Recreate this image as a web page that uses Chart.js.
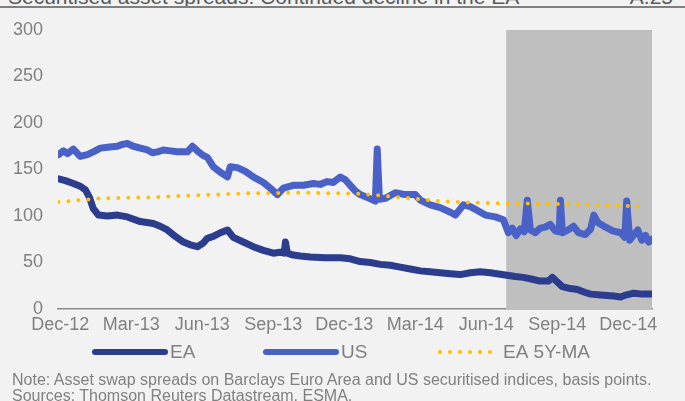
<!DOCTYPE html>
<html>
<head>
<meta charset="utf-8">
<script src="https://cdn.jsdelivr.net/npm/chart.js@4.4.1/dist/chart.umd.min.js"></script>
<style>
    html, body { margin: 0; padding: 0; background: #f2f2f2; }
    #wrap { position: relative; width: 685px; height: 401px; overflow: hidden; background: #f2f2f2;
            font-family: "Liberation Sans", Arial, sans-serif; }
    #title { position: absolute; left: 8px; top: -14px; font-size: 21px; line-height: 1; color: #595959; white-space: nowrap; }
    #fig { position: absolute; right: 12px; top: -14px; font-size: 21px; line-height: 1; color: #595959; }
    #rule { position: absolute; left: 0; top: 6px; width: 685px; height: 2px; background: #808080; }
    #note { position: absolute; left: 12px; top: 372px; font-size: 16px; line-height: 16px; color: #808080; white-space: nowrap; }
    canvas { position: absolute; left: 0; top: 0; }
</style>
</head>
<body>
<div id="wrap">
    <div id="title">Securitised asset spreads: Continued decline in the EA</div>
    <div id="fig">A.25</div>
    <div id="rule"></div>
    <canvas id="chart" width="685" height="401"></canvas>
    <div id="note">Note: Asset swap spreads on Barclays Euro Area and US securitised indices, basis points.<br>Sources: Thomson Reuters Datastream, ESMA.</div>
</div>
<script>
// x values are months counted from Dec-12 (0 = Dec-12, 24 = Dec-14)
const tickMonths = [0, 3, 6, 9, 12, 15, 18, 21, 24];
const tickLabels = ['Dec-12', 'Mar-13', 'Jun-13', 'Sep-13', 'Dec-13', 'Mar-14', 'Jun-14', 'Sep-14', 'Dec-14'];
const yTicks = [0, 50, 100, 150, 200, 250, 300];

// shaded period (second half of 2014)
const shadeStart = 18.84;
const shadeEnd = 25;

const eaMonths = [-0.08, 0.21, 0.55, 0.84, 1.06, 1.23, 1.39, 1.61, 1.99, 2.41, 2.83, 3.38, 3.93, 4.22, 4.52,
    4.86, 5.20, 5.49, 5.79, 6.04, 6.21, 6.46, 6.76, 7.06, 7.31, 7.73, 8.15, 8.58, 9.00, 9.29, 9.46, 9.51,
    9.59, 9.84, 10.14, 10.56, 11.20, 11.83, 12.25, 12.67, 13.10, 13.52, 13.94, 14.36, 14.79, 15.21, 15.63,
    16.05, 16.48, 16.90, 17.32, 17.74, 18.17, 18.80, 19.22, 19.56, 19.94, 20.28, 20.62, 20.79, 21.00,
    21.21, 21.55, 21.85, 22.15, 22.41, 22.83, 23.38, 23.68, 23.89, 24.23, 24.61, 25.01];
const eaValues = [140, 138, 135, 132, 128, 120, 108, 101, 100, 101, 99, 94, 92, 89, 85,
    78, 72, 69, 67, 71, 76, 78, 82, 85, 77, 72, 67, 63, 60, 61, 60, 72,
    60, 58, 57, 56, 55, 55, 54, 51, 50, 48, 47, 45, 43, 41, 40,
    39, 38, 37, 39, 40, 39, 36.5, 35, 34, 32, 30, 30, 34, 29,
    24, 22, 21, 18, 16, 15, 14, 13, 15, 17, 16, 16];

const usMonths = [-0.08, 0.13, 0.30, 0.55, 0.84, 1.14, 1.39, 1.69, 1.99, 2.41, 2.62, 2.83, 3.08, 3.38, 3.68,
    3.89, 4.10, 4.35, 4.65, 4.94, 5.37, 5.58, 5.79, 6.04, 6.21, 6.46, 6.76, 7.06, 7.18, 7.48, 7.82, 8.15,
    8.58, 8.87, 9.17, 9.42, 9.84, 10.27, 10.69, 10.98, 11.28, 11.53, 11.83, 12.04, 12.25, 12.46, 12.67,
    12.97, 13.31, 13.39, 13.48, 13.73, 14.15, 14.58, 15.00, 15.21, 15.63, 16.05, 16.48, 16.69, 17.03,
    17.32, 17.62, 17.96, 18.38, 18.72, 18.93, 19.10, 19.26, 19.43, 19.60, 19.73, 19.86, 20.07, 20.28,
    20.49, 20.70, 20.91, 21.08, 21.13, 21.21, 21.46, 21.68, 21.89, 22.18, 22.41, 22.54, 22.71, 23.04,
    23.34, 23.68, 23.85, 23.93, 24.06, 24.23, 24.40, 24.57, 24.73, 24.86, 25.01];
const usValues = [166, 170, 167, 172, 164, 166, 169, 173, 174, 175, 177, 178, 175, 173, 171,
    168, 169, 171, 170, 169, 169, 175, 170, 165, 163, 153, 147, 142, 153, 152, 148, 142,
    136, 130, 123, 130, 133, 133, 135, 134, 137, 136, 142, 139, 133, 127, 123,
    120, 116, 172, 118, 119, 125, 123, 123, 117, 112, 109, 104, 101, 112,
    110, 106, 101, 99, 96, 82, 87, 79, 86, 83, 117, 85, 82, 87,
    88, 91, 84, 83, 117, 82, 85, 89, 82, 80, 86, 101, 93, 88,
    84, 82, 77, 116, 74, 80, 85, 74, 79, 72, 75];

const maMonths = [-0.08, 0.84, 1.69, 3.80, 5.92, 8.03, 10.14, 11.40, 12.67, 14.36, 16.05, 17.74, 19.43,
    21.13, 22.83, 24.52, 24.70];
const maValues = [115, 117, 119, 120, 122.5, 124.5, 125, 124.5, 124, 120, 116, 114, 113.5,
    113, 112, 110, 110];

const toPoints = (xs, ys) => xs.map((x, i) => ({ x: x, y: ys[i] }));

const shadePlugin = {
    id: 'shade',
    beforeDatasetsDraw(chart) {
        const { ctx, scales } = chart;
        const x0 = scales.x.getPixelForValue(shadeStart);
        const x1 = scales.x.getPixelForValue(shadeEnd);
        const y0 = scales.y.getPixelForValue(300);
        const y1 = scales.y.getPixelForValue(0);
        ctx.save();
        ctx.fillStyle = '#bfbfbf';
        ctx.fillRect(x0, y0, x1 - x0, y1 - y0);
        ctx.restore();
    }
};

// legend drawn under the axis, one row, Excel style
const legendPlugin = {
    id: 'rowLegend',
    afterDraw(chart, args, opts) {
        const ctx = chart.ctx;
        ctx.save();
        ctx.font = '19px "Liberation Sans", Arial, sans-serif';
        ctx.textBaseline = 'middle';
        ctx.fillStyle = '#808080';
        opts.items.forEach(item => {
            const ds = chart.data.datasets[item.index];
            ctx.strokeStyle = ds.borderColor;
            ctx.lineWidth = item.lw;
            ctx.lineCap = 'round';
            ctx.setLineDash(ds.borderDash || []);
            ctx.beginPath();
            ctx.moveTo(item.x, opts.y);
            ctx.lineTo(item.x + item.w, opts.y);
            ctx.stroke();
            ctx.setLineDash([]);
            ctx.fillText(ds.label, item.x + item.w + 5, opts.y + 1);
        });
        ctx.restore();
    }
};

new Chart(document.getElementById('chart'), {
    type: 'line',
    data: {
        datasets: [
            {
                label: 'EA 5Y-MA',
                data: toPoints(maMonths, maValues),
                borderColor: '#ffc000',
                borderWidth: 4,
                borderDash: [0, 10],
                borderCapStyle: 'round',
                pointRadius: 0,
                order: 0
            },
            {
                label: 'US',
                data: toPoints(usMonths, usValues),
                borderColor: '#4a61c7',
                borderWidth: 7,
                borderJoinStyle: 'round',
                borderCapStyle: 'round',
                pointRadius: 0,
                order: 1
            },
            {
                label: 'EA',
                data: toPoints(eaMonths, eaValues),
                borderColor: '#2b3d8c',
                borderWidth: 7,
                borderJoinStyle: 'round',
                borderCapStyle: 'round',
                pointRadius: 0,
                order: 2
            }
        ]
    },
    options: {
        responsive: false,
        animation: false,
        devicePixelRatio: 1,
        layout: { padding: { left: 0, right: 33, top: 30, bottom: 0 } },
        plugins: {
            legend: { display: false },
            tooltip: { enabled: false },
            rowLegend: {
                y: 352,
                items: [
                    { index: 2, x: 95, w: 70, lw: 6 },
                    { index: 1, x: 266, w: 70, lw: 6 },
                    { index: 0, x: 440, w: 58, lw: 4 }
                ]
            }
        },
        scales: {
            x: {
                type: 'linear',
                min: -0.1,
                max: shadeEnd,
                afterBuildTicks: scale => { scale.ticks = tickMonths.map(v => ({ value: v })); },
                afterFit: scale => { scale.height = 92; },
                grid: { display: false, drawTicks: false },
                border: { display: true, color: '#898989', width: 1.5 },
                ticks: {
                    color: '#808080',
                    font: { family: '"Liberation Sans", Arial, sans-serif', size: 18 },
                    padding: 5,
                    maxRotation: 0,
                    autoSkip: false,
                    callback: v => tickLabels[tickMonths.indexOf(v)]
                }
            },
            y: {
                min: 0,
                max: 300,
                afterBuildTicks: scale => { scale.ticks = yTicks.map(v => ({ value: v })); },
                afterFit: scale => { scale.width = 58; },
                grid: { display: false, drawTicks: false },
                border: { display: false },
                ticks: {
                    color: '#808080',
                    font: { family: '"Liberation Sans", Arial, sans-serif', size: 18 },
                    padding: 15
                }
            }
        }
    },
    plugins: [shadePlugin, legendPlugin]
});
</script>
</body>
</html>
